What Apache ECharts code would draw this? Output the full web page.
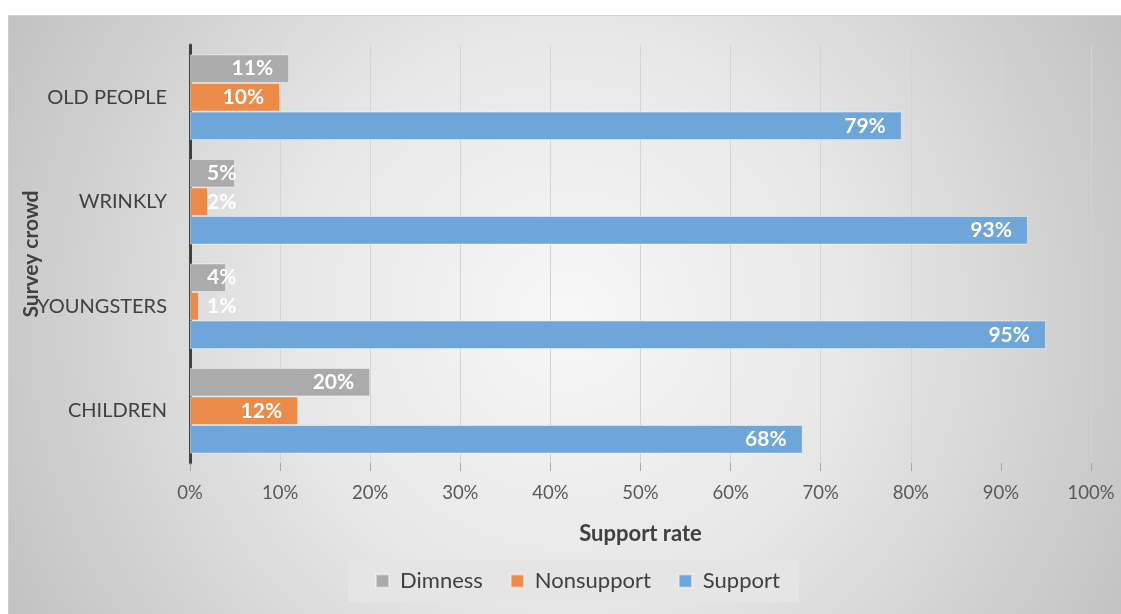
<!DOCTYPE html>
<html><head><meta charset="utf-8">
<script src="https://cdn.jsdelivr.net/npm/echarts@6/dist/echarts.min.js"></script>
<style>html,body{margin:0;padding:0;background:#fff;}#c{width:1121px;height:614px;}</style>
</head><body><div id="c"></div>
<script>
const categories = ['CHILDREN', 'YOUNGSTERS', 'WRINKLY', 'OLD PEOPLE'];
const dimness = [20, 4, 5, 11];
const nonsupport = [12, 1, 2, 10];
const support = [68, 95, 93, 79];
const xTicks = [0, 10, 20, 30, 40, 50, 60, 70, 80, 90, 100];

const FONT = 'Lato';
const chart = echarts.init(document.getElementById('c'));

function mkData(arr) {
  return arr.map(v => {
    if (v <= 5) {
      return { value: v, label: { position: [17, '50%'], align: 'left', verticalAlign: 'middle' } };
    }
    return v;
  });
}
const labelBase = {
  show: true, position: 'insideRight', distance: 16, color: '#fff',
  fontFamily: FONT, fontWeight: 'bold', fontSize: 21, formatter: '{c}%'
};
function series(name, arr, color) {
  return {
    name, type: 'bar', data: mkData(arr), barGap: '0%', barCategoryGap: '18%',
    itemStyle: { color, borderColor: 'rgba(255,255,255,0.45)', borderWidth: 1 },
    label: labelBase, emphasis: { disabled: true }
  };
}

chart.setOption({
  animation: false,
  graphic: [{
    type: 'rect', silent: true, z: -10,
    shape: { x: 8.5, y: 15.5, width: 1120, height: 600 },
    style: {
      fill: { type: 'radial', x: 0.5, y: 0.5, r: 1.05, colorStops: [
        { offset: 0, color: '#f7f7f7' }, { offset: 0.45, color: '#e7e7e7' }, { offset: 1, color: '#c2c2c2' }] },
      stroke: '#cfcfcf', lineWidth: 1
    }
  }],
  legend: {
    data: ['Dimness', 'Nonsupport', 'Support'],
    left: 348, top: 560,
    backgroundColor: '#e5e5e5', padding: [10, 19, 10, 27],
    itemGap: 27, itemWidth: 13, itemHeight: 13, icon: 'rect',
    textStyle: { fontFamily: FONT, fontSize: 22, color: '#404040', padding: [0, 0, 0, 6] }
  },
  grid: { left: 190, right: 30, top: 45, bottom: 151, containLabel: false, outerBoundsMode: 'none' },
  xAxis: {
    type: 'value', min: 0, max: 100, interval: 10,
    name: 'Support rate', nameLocation: 'middle', nameGap: 60, nameMoveOverlap: false,
    nameTextStyle: { fontFamily: FONT, fontSize: 22, fontWeight: 'bold', color: '#404040' },
    axisLine: { show: false },
    axisTick: { show: true, inside: false, length: 8, lineStyle: { color: '#a6a6a6' } },
    splitLine: { show: true, lineStyle: { color: '#d4d4d4', width: 1 } },
    axisLabel: { margin: 21, fontFamily: FONT, fontSize: 18.5, color: '#595959',
      formatter: v => xTicks.includes(v) ? v + '%' : '' }
  },
  yAxis: {
    type: 'category', data: categories,
    name: 'Survey crowd', nameLocation: 'middle', nameGap: 148, nameRotate: 90, nameMoveOverlap: false,
    nameTextStyle: { fontFamily: FONT, fontSize: 21, fontWeight: 'bold', color: '#404040' },
    axisLine: { show: true, lineStyle: { color: '#404040', width: 3 } },
    axisTick: { show: false },
    axisLabel: { margin: 23, fontFamily: FONT, fontSize: 20, color: '#404040' }
  },
  series: [
    series('Dimness', dimness, '#ababab'),
    series('Nonsupport', nonsupport, '#ec8a4a'),
    series('Support', support, '#6ea6d9')
  ]
});
</script></body></html>
